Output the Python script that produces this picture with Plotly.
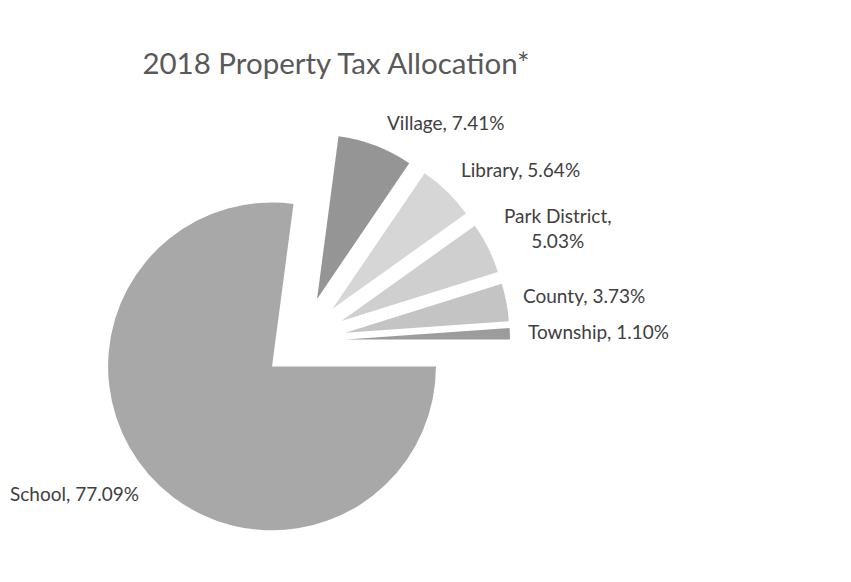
import plotly.graph_objects as go

# ---- data ----
categories = ["School", "Village", "Library", "Park District", "County", "Township"]
shares = [77.09, 7.41, 5.64, 5.03, 3.73, 1.10]
title_text = "2018 Property Tax Allocation*"

# ---- styles ----
OFF = 8  # page body margin of the browser
W, H = 851 - OFF, 582 - OFF
colors = ["#a8a8a8", "#959595", "#d6d6d6", "#cfcfcf", "#c4c4c4", "#9c9c9c"]
pulls = [0.235, 0.275, 0.275, 0.275, 0.275, 0.275]
label_breaks = {"Park District": "<br>"}
# label centre positions in page pixels (x, y)
label_pos = {
    "School": (74, 493),
    "Village": (446, 122),
    "Library": (520, 169),
    "Park District": (558, 228),
    "County": (584, 295),
    "Township": (598, 331),
}
pie_cx, pie_cy, pie_half = 301, 341, 209
font_family = "Lato, 'Open Sans', sans-serif"
label_color = "#404040"


def fx(px):
    return (px - OFF) / W


def fy(py):
    return 1 - (py - OFF) / H


fig = go.Figure()
fig.add_trace(go.Pie(
    labels=categories,
    values=shares,
    sort=False,
    direction="clockwise",
    rotation=90,
    pull=pulls,
    marker=dict(colors=colors, line=dict(width=0)),
    textinfo="none",
    hoverinfo="label+percent",
    showlegend=False,
    domain=dict(
        x=[fx(pie_cx - pie_half), fx(pie_cx + pie_half)],
        y=[fy(pie_cy + pie_half), fy(pie_cy - pie_half)],
    ),
))

annotations = []
for cat, val in zip(categories, shares):
    px, py = label_pos[cat]
    sep = label_breaks.get(cat, " ")
    annotations.append(dict(
        text=f"{cat},{sep}{val:.2f}%",
        x=fx(px), y=fy(py), xref="paper", yref="paper",
        xanchor="center", yanchor="middle", showarrow=False, align="center",
        font=dict(family=font_family, size=19, color=label_color),
    ))

fig.update_layout(
    width=W, height=H,
    margin=dict(l=0, r=0, t=0, b=0),
    paper_bgcolor="white", plot_bgcolor="white",
    title=dict(
        text=title_text, x=fx(336), xanchor="center",
        y=fy(64), yanchor="middle", yref="container",
        font=dict(family=font_family, size=29.5, color="#595959"),
    ),
    annotations=annotations,
)

fig.write_html("out.html")
